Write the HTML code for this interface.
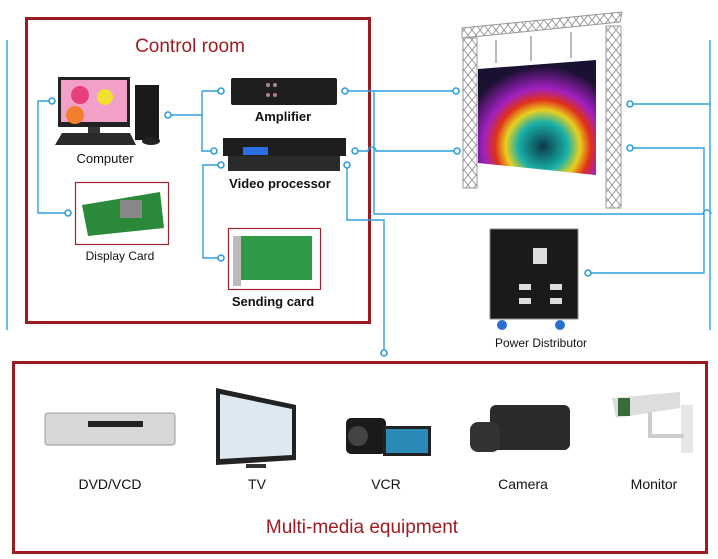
<!DOCTYPE html>
<html><head><meta charset="utf-8"><style>
html,body{margin:0;padding:0;background:#fff}
svg{display:block}
text{font-family:"Liberation Sans",sans-serif}
</style></head><body>
<svg width="718" height="559" viewBox="0 0 718 559" xmlns="http://www.w3.org/2000/svg">
<defs>
<radialGradient id="scr" cx="0.55" cy="0.75" r="0.7">
<stop offset="0" stop-color="#0b3a4a"/><stop offset="0.3" stop-color="#1ab0a8"/><stop offset="0.45" stop-color="#e8d020"/><stop offset="0.58" stop-color="#e0301a"/><stop offset="0.72" stop-color="#a020c0"/><stop offset="1" stop-color="#1a1030"/>
</radialGradient>
<pattern id="truss" width="8" height="10" patternUnits="userSpaceOnUse"><path d="M0 0L8 10M8 0L0 10" stroke="#999" stroke-width="1" fill="none"/></pattern>
</defs>
<!-- side lines -->
<line x1="7" y1="40" x2="7" y2="330" stroke="#3fa7e0" stroke-width="1.5"/>
<line x1="710" y1="40" x2="710" y2="330" stroke="#3fa7e0" stroke-width="1.5"/>

<!-- Control room box -->
<rect x="26.5" y="18.5" width="343" height="304" fill="none" stroke="#9b1b1f" stroke-width="3"/>
<text x="190" y="52" text-anchor="middle" font-size="19" fill="#a01c22">Control room</text>

<!-- connectors -->
<g stroke="#2f9fdc" stroke-width="1.4" fill="none">
<path d="M52 101H38V213H68"/>
<path d="M168 115H202M202 91V151H214M202 91H221"/>
<path d="M221 165H203V258H221"/>
<path d="M345 91H456M374 91V214H703a4 4 0 0 1 8 0"/>
<path d="M355 151H368a4 4 0 0 1 8 0H457"/>
<path d="M347 165V220H384V353"/>
<path d="M630 104H710M630 148H704V273H588"/>
</g>
<g stroke="#2f9fdc" stroke-width="1.6" fill="#fff">
<circle cx="52" cy="101" r="3"/><circle cx="68" cy="213" r="3"/><circle cx="168" cy="115" r="3"/>
<circle cx="221" cy="91" r="3"/><circle cx="214" cy="151" r="3"/><circle cx="221" cy="165" r="3"/><circle cx="221" cy="258" r="3"/>
<circle cx="345" cy="91" r="3"/><circle cx="355" cy="151" r="3"/><circle cx="347" cy="165" r="3"/>
<circle cx="456" cy="91" r="3"/><circle cx="457" cy="151" r="3"/><circle cx="630" cy="104" r="3"/><circle cx="630" cy="148" r="3"/>
<circle cx="588" cy="273" r="3"/><circle cx="384" cy="353" r="3"/>
</g>

<!-- Computer -->
<rect x="58" y="77" width="72" height="50" fill="#222"/>
<rect x="61" y="80" width="66" height="42" fill="#f3a0c8"/>
<circle cx="80" cy="95" r="9" fill="#e8407a"/><circle cx="105" cy="97" r="8" fill="#f0e030"/><circle cx="75" cy="115" r="9" fill="#f08030"/>
<rect x="88" y="127" width="12" height="8" fill="#333"/>
<rect x="135" y="85" width="24" height="55" fill="#1a1a1a"/>
<path d="M55 145L62 133H130L136 145Z" fill="#2a2a2a"/>
<ellipse cx="151" cy="141" rx="9" ry="4" fill="#222"/>
<text x="105" y="163" text-anchor="middle" font-size="13" fill="#111">Computer</text>

<!-- Display card -->
<rect x="75.5" y="182.5" width="93" height="62" fill="#fff" stroke="#a0262a" stroke-width="1.2"/>
<path d="M82 205L160 192L164 228L88 236Z" fill="#2a8a3a"/>
<rect x="120" y="200" width="22" height="18" fill="#888"/>
<text x="120" y="260" text-anchor="middle" font-size="12" fill="#111">Display Card</text>

<!-- Amplifier -->
<rect x="231" y="78" width="106" height="27" rx="2" fill="#1e1e1e"/>
<g fill="#a88" ><circle cx="268" cy="85" r="2"/><circle cx="275" cy="85" r="2"/><circle cx="268" cy="95" r="2"/><circle cx="275" cy="95" r="2"/></g>
<text x="283" y="121" text-anchor="middle" font-size="13" font-weight="bold" fill="#111">Amplifier</text>

<!-- Video processor -->
<rect x="223" y="138" width="123" height="18" fill="#1e1e1e"/>
<rect x="243" y="147" width="25" height="8" fill="#2a6ee0"/>
<rect x="228" y="156" width="112" height="15" fill="#2a2a2a"/>
<text x="280" y="188" text-anchor="middle" font-size="13" font-weight="bold" fill="#111">Video processor</text>

<!-- Sending card -->
<rect x="228.5" y="228.5" width="92" height="61" fill="#fff" stroke="#a0262a" stroke-width="1.2"/>
<rect x="240" y="236" width="72" height="44" fill="#2e9a48"/>
<rect x="233" y="236" width="8" height="50" fill="#bbb"/>
<text x="273" y="306" text-anchor="middle" font-size="13" font-weight="bold" fill="#111">Sending card</text>

<!-- Truss & screen -->
<path d="M462 38L620 22L622 12L462 28Z" fill="url(#truss)" stroke="#999"/>
<rect x="463" y="38" width="14" height="150" fill="url(#truss)" stroke="#999"/>
<rect x="606" y="26" width="15" height="182" fill="url(#truss)" stroke="#999"/>
<g stroke="#777"><line x1="496" y1="40" x2="496" y2="63"/><line x1="531" y1="36" x2="531" y2="61"/><line x1="571" y1="32" x2="571" y2="58"/></g>
<path d="M478 69L596 60V175L478 163Z" fill="url(#scr)"/>

<!-- Power distributor -->
<rect x="490" y="229" width="88" height="90" fill="#1a1a1a" stroke="#888"/>
<rect x="533" y="248" width="14" height="16" fill="#ddd"/>
<g fill="#ddd"><rect x="519" y="284" width="12" height="6"/><rect x="550" y="284" width="12" height="6"/><rect x="519" y="298" width="12" height="6"/><rect x="550" y="298" width="12" height="6"/></g>
<g fill="#2a6ed0"><circle cx="502" cy="325" r="5"/><circle cx="560" cy="325" r="5"/></g>
<text x="541" y="347" text-anchor="middle" font-size="12" fill="#111">Power Distributor</text>

<!-- Multi-media box -->
<rect x="13.5" y="362.5" width="693" height="190" fill="none" stroke="#9b1b1f" stroke-width="3"/>
<!-- DVD -->
<rect x="45" y="413" width="130" height="32" rx="3" fill="#d8d8d8" stroke="#999"/>
<rect x="88" y="421" width="55" height="6" fill="#222"/>
<!-- TV -->
<path d="M216 388L296 405V460L216 465Z" fill="#222"/>
<path d="M220 394L292 409V455L220 459Z" fill="#dde8f0"/>
<rect x="246" y="464" width="20" height="4" fill="#333"/>
<!-- VCR -->
<rect x="346" y="418" width="40" height="36" rx="5" fill="#1a1a1a"/>
<circle cx="358" cy="436" r="10" fill="#444"/>
<rect x="383" y="426" width="48" height="30" fill="#222"/><rect x="386" y="429" width="42" height="24" fill="#2a8ab8"/>
<!-- Camera -->
<rect x="490" y="405" width="80" height="45" rx="6" fill="#2a2a2a"/>
<rect x="470" y="422" width="30" height="30" rx="8" fill="#333"/>
<!-- Monitor -->
<path d="M612 398L680 392V408L616 418Z" fill="#ddd"/>
<rect x="618" y="398" width="12" height="18" fill="#3a6a3a"/>
<rect x="681" y="405" width="12" height="48" fill="#e6e6e6"/>
<path d="M650 412V436H684" stroke="#ccc" stroke-width="4" fill="none"/>

<g font-size="14" fill="#111" text-anchor="middle" font-family="Liberation Sans Narrow,Liberation Sans,sans-serif">
<text x="110" y="489">DVD/VCD</text><text x="257" y="489">TV</text><text x="386" y="489">VCR</text><text x="523" y="489">Camera</text><text x="654" y="489">Monitor</text>
</g>
<text x="362" y="533" text-anchor="middle" font-size="19" fill="#a01c22">Multi-media equipment</text>
</svg>
</body></html>
